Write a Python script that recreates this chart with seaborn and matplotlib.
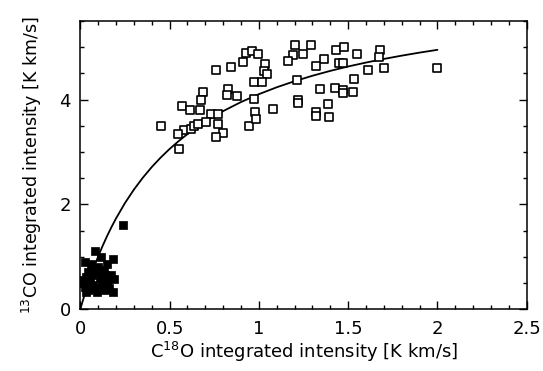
import matplotlib
matplotlib.use("Agg")
import matplotlib.pyplot as plt
import seaborn as sns
import pandas as pd
from matplotlib.ticker import MultipleLocator

# open squares (C18O, 13CO)
open_x = [0.927, 0.912, 0.843, 0.759, 0.688, 0.673, 0.826, 0.822, 0.878, 0.570,
          0.615, 0.669, 0.731, 0.769, 0.453, 0.580, 0.619, 0.636, 0.660, 0.703,
          0.772, 0.548, 0.797, 0.759, 0.550, 0.942, 0.959, 0.993, 1.034, 1.028,
          1.043, 0.974, 1.019, 0.972, 0.979, 0.983, 1.077, 1.202, 1.290, 1.192,
          1.245, 1.161, 1.364, 1.319, 1.430, 1.478, 1.547, 1.450, 1.472, 1.215,
          1.342, 1.426, 1.472, 1.472, 1.525, 1.532, 1.612, 1.678, 1.674, 1.702,
          1.220, 1.220, 1.388, 1.319, 1.319, 1.390, 1.999]
open_y = [4.89, 4.72, 4.63, 4.57, 4.14, 3.99, 4.21, 4.08, 4.07, 3.88,
          3.80, 3.80, 3.73, 3.73, 3.50, 3.43, 3.44, 3.49, 3.54, 3.58,
          3.54, 3.34, 3.36, 3.29, 3.06, 3.49, 4.93, 4.88, 4.68, 4.54,
          4.49, 4.33, 4.33, 4.01, 3.77, 3.63, 3.82, 5.05, 5.05, 4.86,
          4.88, 4.73, 4.78, 4.65, 4.95, 5.00, 4.88, 4.70, 4.70, 4.38,
          4.20, 4.22, 4.19, 4.12, 4.15, 4.39, 4.57, 4.95, 4.82, 4.61,
          4.00, 3.94, 3.92, 3.77, 3.69, 3.66, 4.60]

# filled squares
fill_x = [0.240, 0.081, 0.115, 0.180, 0.025, 0.059, 0.147, 0.100, 0.044, 0.133,
          0.066, 0.137, 0.016, 0.053, 0.109, 0.156, 0.189, 0.025, 0.072, 0.119,
          0.147, 0.044, 0.091, 0.137, 0.184, 0.007, 0.067, 0.095, 0.030, 0.110,
          0.030, 0.160, 0.120, 0.080, 0.170]
fill_y = [1.61, 1.11, 1.00, 0.96, 0.89, 0.87, 0.87, 0.81, 0.71, 0.75,
          0.65, 0.65, 0.55, 0.55, 0.59, 0.57, 0.57, 0.43, 0.46, 0.48,
          0.46, 0.36, 0.33, 0.36, 0.33, 0.49, 0.39, 0.40, 0.62, 0.70,
          0.33, 0.40, 0.55, 0.75, 0.65]

# fitted curve
curve_x = [0.0, 0.01, 0.025, 0.05, 0.075, 0.1, 0.125, 0.15, 0.175, 0.2, 0.25,
           0.3, 0.35, 0.4, 0.45, 0.5, 0.55, 0.6, 0.65, 0.7, 0.75, 0.8, 0.9,
           1.0, 1.1, 1.2, 1.3, 1.4, 1.5, 1.6, 1.7, 1.8, 1.9, 2.0]
curve_y = [0.0, 0.118, 0.286, 0.547, 0.787, 1.006, 1.209, 1.397, 1.571, 1.733,
           2.026, 2.283, 2.510, 2.713, 2.895, 3.059, 3.207, 3.343, 3.467, 3.580,
           3.685, 3.782, 3.955, 4.105, 4.237, 4.353, 4.457, 4.550, 4.634, 4.709,
           4.778, 4.841, 4.899, 4.952]

sns.set_style("ticks")
plt.rcParams['font.family'] = ['DejaVu Sans']
plt.rcParams['mathtext.default'] = 'regular'
plt.rcParams['text.color'] = 'black'
plt.rcParams['axes.labelcolor'] = 'black'

fig = plt.figure(figsize=(5.43, 3.71), dpi=100)
ax = fig.add_axes([0.148, 0.167, 0.822, 0.776])

df_open = pd.DataFrame({"x": open_x, "y": open_y})
df_fill = pd.DataFrame({"x": fill_x, "y": fill_y})
df_curve = pd.DataFrame({"x": curve_x, "y": curve_y})

sns.lineplot(data=df_curve, x="x", y="y", ax=ax, color="black", lw=1.3,
             estimator=None, sort=True)
sns.scatterplot(data=df_open, x="x", y="y", ax=ax, marker="s", s=34,
                facecolor="white", edgecolor="black", linewidth=1.2, zorder=3)
sns.scatterplot(data=df_fill, x="x", y="y", ax=ax, marker="s", s=32,
                color="black", edgecolor="black", linewidth=0.5, zorder=3)

ax.set_xlim(0, 2.5)
ax.set_ylim(0, 5.5)
ax.xaxis.set_minor_locator(MultipleLocator(0.1))
ax.yaxis.set_minor_locator(MultipleLocator(0.5))
ax.set_xticks([0, 0.5, 1, 1.5, 2, 2.5])
ax.set_xticklabels(["0", "0.5", "1", "1.5", "2", "2.5"])
ax.set_yticks([0, 2, 4])
ax.set_yticklabels(["0", "2", "4"])
ax.tick_params(which="both", direction="in", top=True, right=True,
               color="black", width=1.0, labelsize=13, labelcolor="black")
ax.tick_params(which="major", length=6)
ax.tick_params(which="minor", length=3)
ax.tick_params(axis="x", which="major", pad=8)
ax.tick_params(axis="y", which="major", pad=7)
for sp in ax.spines.values():
    sp.set_visible(True)
    sp.set_color("black")
    sp.set_linewidth(1.1)

ax.set_xlabel("C$^{18}$O integrated intensity [K km/s]", fontsize=13,
              labelpad=1, color="black")
ax.set_ylabel("$^{13}$CO integrated intensity [K km/s]", fontsize=12.5,
              labelpad=11, color="black")

fig.savefig("out.png", dpi=100, facecolor="white")
